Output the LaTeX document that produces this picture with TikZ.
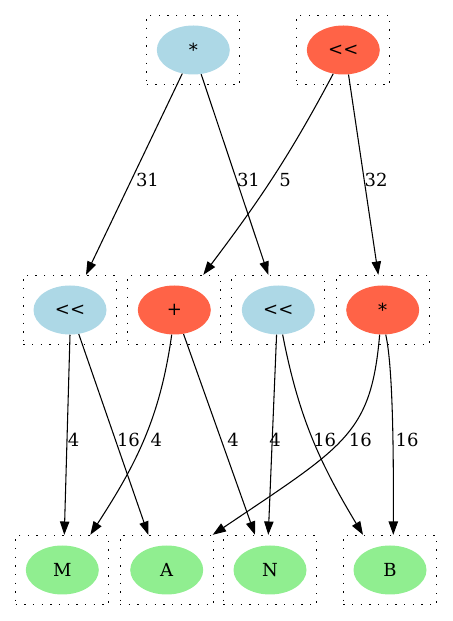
\documentclass[tikz,border=0pt]{standalone}
\usepackage{fontspec}
\setmainfont{DejaVu Serif}
\usetikzlibrary{arrows.meta,shapes.geometric,calc}
\definecolor{opblue}{RGB}{173,216,230}
\definecolor{optomato}{RGB}{255,99,71}
\definecolor{leafgreen}{RGB}{144,238,144}

\begin{document}
\begin{tikzpicture}[x=0.75pt, y=0.75pt,
	every node/.style={font=\fontsize{13.5}{16}\selectfont},
	>={Triangle[length=10pt, width=7pt]},
	op/.style={ellipse, minimum width=54.75pt, minimum height=36.75pt, inner sep=0pt},
	grp/.style={draw, line width=0.75pt, dash pattern=on 1pt off 5.5pt, minimum width=70pt, minimum height=52pt, inner sep=0pt},
	wire/.style={->, line width=0.8pt}]
	\useasboundingbox (0,0) rectangle (453,621);
	
	% dotted groups
	\foreach \n/\x/\y in {gT1/193.3/571, gT2/343.3/571, gM1/70/311, gM2/174.3/311, gM3/278.3/311, gM4/382.7/311, gB1/62.3/51, gB2/166.7/51, gB3/270/51, gB4/390/51}
		\node[grp] (\n) at (\x,\y) {};
	
	\node[op, fill=opblue] (mulT) at (gT1) {*};
	\node[op, fill=optomato] (shlT) at (gT2) {<{}<};
	\node[op, fill=opblue] (shlA) at (gM1) {<{}<};
	\node[op, fill=optomato] (add) at (gM2) {+};
	\node[op, fill=opblue] (shlB) at (gM3) {<{}<};
	\node[op, fill=optomato] (mulM) at (gM4) {*};
	\node[op, fill=leafgreen] (vM) at (gB1) {M};
	\node[op, fill=leafgreen] (vA) at (gB2) {A};
	\node[op, fill=leafgreen] (vN) at (gB3) {N};
	\node[op, fill=leafgreen] (vB) at (gB4) {B};
	
	\draw[wire] (mulT.245) -- ($(gM1.north)+(16,0)$);
	\draw[wire] (mulT.288) -- ($(gM3.north)+(-10,0)$);
	\draw[wire] (shlT.247) to[out=242, in=53] ($(gM2.north)+(29,0)$);
	\draw[wire] (shlT.282) -- ($(gM4.north)+(-4.4,0)$);
	
	\draw[wire] (shlA.270) -- ($(gB1.north)+(2,0)$);
	\draw[wire] (shlA.290) -- ($(gB2.north)+(-18.4,0)$);
	\draw[wire] (add.264) to[out=262, in=57] ($(gB1.north)+(28,0)$);
	\draw[wire] (add.291) -- ($(gB3.north)+(-15,0)$);
	\draw[wire] (shlB.266) -- ($(gB3.north)+(-1.7,0)$);
	\draw[wire] (shlB.280) to[out=281, in=121] ($(gB4.north)+(-27,0)$);
	\draw[wire] (mulM.263) .. controls +(265:100) and +(34:160) .. ($(gB2.north)+(46,0)$);
	\draw[wire] (mulM.277) to[out=283, in=90, looseness=0.5] ($(gB4.north)+(3.3,0)$);
	
	\node (w1) at (147.5,441) {31};
	\node (w2) at (248.5,441) {31};
	\node (w3) at (285,441) {5};
	\node (w4) at (376,441) {32};
	\node (w5) at (73.7,181) {4};
	\node (w6) at (128.5,181) {16};
	\node (w7) at (156.3,181) {4};
	\node (w8) at (233,181) {4};
	\node (w9) at (275,181) {4};
	\node (w10) at (324.7,181) {16};
	\node (w11) at (360.3,181) {16};
	\node (w12) at (407,181) {16};
\end{tikzpicture}
\end{document}
